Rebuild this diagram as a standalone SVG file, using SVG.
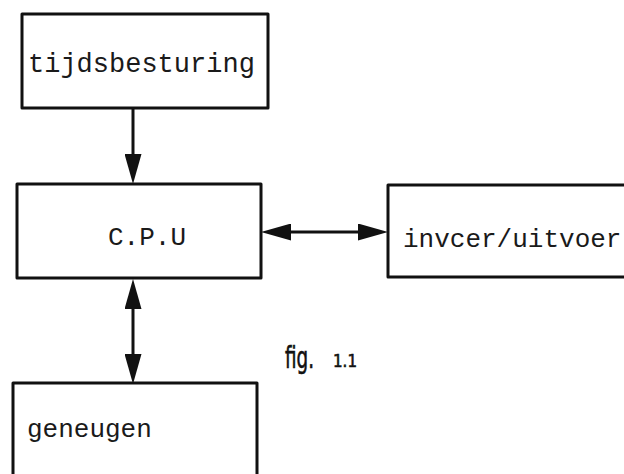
<svg xmlns="http://www.w3.org/2000/svg" width="624" height="474" viewBox="0 0 624 474">
  <style>
    .box { fill: #ffffff; stroke: #111111; stroke-width: 3; stroke-linejoin: round; }
    .wire { fill: none; stroke: #111111; stroke-width: 3; }
    .lbl { font-family: "Liberation Mono", "DejaVu Sans Mono", monospace; font-size: 26px; fill: #1a1a1a; }
    .hand { font-family: "DejaVu Sans Condensed", "DejaVu Sans", sans-serif; fill: #111111; stroke: #111111; stroke-width: 0.6; }
  </style>
  <defs>
    <marker id="head" viewBox="0 0 30 17" markerWidth="30" markerHeight="17" refX="19" refY="8.5" orient="auto-start-reverse" markerUnits="userSpaceOnUse">
      <path d="M0,0 L30,8.5 L0,17 z" fill="#111111"/>
    </marker>
  </defs>

  <rect width="624" height="474" fill="#ffffff"/>

  <!-- connectors -->
  <g id="connectors">
    <line class="wire" x1="133" y1="108" x2="133" y2="173" marker-end="url(#head)"/>
    <line class="wire" x1="272" y1="232" x2="377" y2="232" marker-start="url(#head)" marker-end="url(#head)"/>
    <line class="wire" x1="133" y1="290" x2="133" y2="373" marker-start="url(#head)" marker-end="url(#head)"/>
  </g>

  <g id="tijdsbesturing">
    <rect class="box" x="22" y="14" width="246" height="94"/>
    <text class="lbl" x="28" y="72" style="font-size:27px">tijdsbesturing</text>
  </g>

  <g id="cpu">
    <rect class="box" x="17" y="184" width="244" height="94"/>
    <text class="lbl" x="108" y="245">C.P.U</text>
  </g>

  <g id="invoer-uitvoer">
    <rect class="box" x="388" y="185" width="260" height="92"/>
    <text class="lbl" x="403" y="247">invcer/uitvoer</text>
  </g>

  <g id="geheugen">
    <rect class="box" x="13" y="383" width="244" height="130"/>
    <text class="lbl" x="27" y="437">geneugen</text>
  </g>

  <g id="caption">
    <text class="hand" x="285" y="368" font-size="31" textLength="29" lengthAdjust="spacingAndGlyphs">fig.</text>
    <text class="hand" x="333" y="367" font-size="18" textLength="24" lengthAdjust="spacingAndGlyphs">1.1</text>
  </g>
</svg>
